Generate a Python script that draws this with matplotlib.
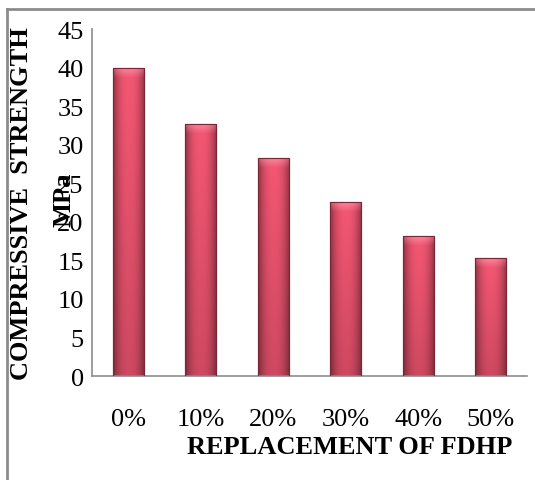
import numpy as np
import matplotlib
matplotlib.use("Agg")
import matplotlib.pyplot as plt
from matplotlib.patches import Rectangle
from matplotlib.lines import Line2D

categories = ["0%", "10%", "20%", "30%", "40%", "50%"]
strength = [40.0, 32.7, 28.3, 22.6, 18.2, 15.3]
yticks = [0, 5, 10, 15, 20, 25, 30, 35, 40, 45]

plt.rcParams["font.family"] = ["Liberation Serif", "DejaVu Serif"]

fig = plt.figure(figsize=(5.35, 4.81), dpi=100)
ax = fig.add_axes([0.172, 0.2162, 0.813, 0.7214])

x = np.arange(len(categories))
bars = ax.bar(x, strength, width=0.43, color="#e84a66",
              edgecolor="#8a2a3c", linewidth=0.8, zorder=2)

# cylinder-like shading: dark edges, bright middle, a bit darker toward the base
u = np.linspace(-1, 1, 64)
across = 1 - 0.42 * np.abs(u) ** 2.4
down = np.linspace(0.84, 1.0, 64)[:, None]
light = np.array([0.96, 0.34, 0.45])
shade = light[None, None, :] * (across[None, :, None] * down[:, :, None])
shade = np.clip(shade, 0, 1)

# soft pale cap fading downward
cap = np.zeros((32, 64, 4))
cap[..., :3] = [0.98, 0.62, 0.70]
cap[..., 3] = np.linspace(0, 0.75, 32)[:, None] * (1 - 0.5 * np.abs(u) ** 2)[None, :]

for b in bars:
    x0, w, h = b.get_x(), b.get_width(), b.get_height()
    im = ax.imshow(shade, extent=[x0, x0 + w, 0, h], aspect="auto",
                   origin="lower", zorder=2.5, interpolation="bilinear")
    im.set_clip_path(b)
    im2 = ax.imshow(cap, extent=[x0, x0 + w, h - 1.3, h], aspect="auto",
                    origin="lower", zorder=2.6, interpolation="bilinear")
    im2.set_clip_path(b)
    ax.add_patch(Rectangle((x0, 0), w, h, facecolor="none",
                           edgecolor="#7a2636", linewidth=0.8, zorder=2.7))

ax.set_xlim(-0.5, len(categories) - 0.5)
ax.set_ylim(0, 45)
ax.set_yticks(yticks)
ax.set_xticks(x)
ax.set_xticklabels(categories)
ax.tick_params(axis="both", length=0, labelsize=19)
ax.tick_params(axis="y", pad=6)
ax.tick_params(axis="x", pad=23)
for side in ["top", "right"]:
    ax.spines[side].set_visible(False)
for side in ["left", "bottom"]:
    ax.spines[side].set_color("#8c8c8c")
    ax.spines[side].set_linewidth(1.2)

fig.text(0.654, 0.07, "REPLACEMENT OF FDHP", fontsize=19,
         fontweight="bold", ha="center", va="center")
fig.text(0.041, 0.577, "COMPRESSIVE  STRENGTH", fontsize=19,
         fontweight="bold", rotation=90, ha="center", va="center")
fig.text(0.12, 0.585, "MPa", fontsize=19, fontweight="bold",
         rotation=90, ha="center", va="center")

# outer chart frame (top and left edges)
fy = 1 - 10 / 481
fx = 7 / 535
fig.add_artist(Line2D([fx, 1.0], [fy, fy], transform=fig.transFigure,
                      color="#8c8c8c", linewidth=2))
fig.add_artist(Line2D([fx, fx], [0.0, fy], transform=fig.transFigure,
                      color="#8c8c8c", linewidth=2))

fig.savefig("out.png", dpi=100)
